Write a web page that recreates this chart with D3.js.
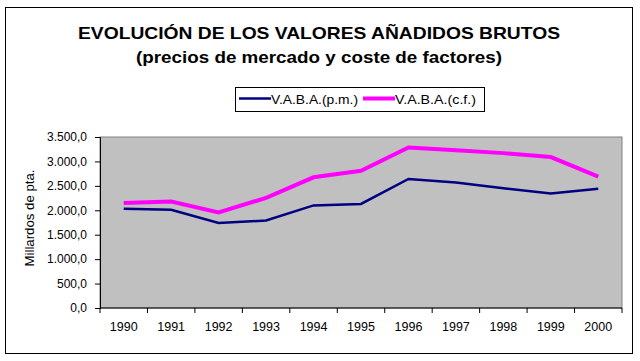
<!DOCTYPE html>
<html>
<head>
<meta charset="utf-8">
<script src="https://cdn.jsdelivr.net/npm/d3@7"></script>
<style>
  body { margin: 0; background: #fff; }
  svg { display: block; font-family: Arial, "Liberation Sans", sans-serif; }
</style>
</head>
<body>
<svg width="640" height="361"></svg>
<script>
const years = ["1990","1991","1992","1993","1994","1995","1996","1997","1998","1999","2000"];
const vabaPm = [2030, 2010, 1740, 1790, 2100, 2130, 2640, 2570, 2450, 2345, 2440];
const vabaCf = [2150, 2180, 1955, 2255, 2675, 2810, 3285, 3230, 3170, 3090, 2690];
const yTicks = [0, 500, 1000, 1500, 2000, 2500, 3000, 3500];
const seriesNames = ["V.A.B.A.(p.m.)", "V.A.B.A.(c.f.)"];

const svg = d3.select("svg");

// marco exterior
svg.append("rect")
  .attr("x", 5.5).attr("y", 7.5)
  .attr("width", 627).attr("height", 346)
  .attr("fill", "#fff").attr("stroke", "#000").attr("stroke-width", 1);

// titulo (texto algo ensanchado como en el original)
svg.append("text")
  .attr("x", 78).attr("y", 39)
  .attr("font-size", 17).attr("font-weight", "bold")
  .attr("textLength", 482).attr("lengthAdjust", "spacingAndGlyphs")
  .text("EVOLUCIÓN DE LOS VALORES AÑADIDOS BRUTOS");
svg.append("text")
  .attr("x", 136).attr("y", 63)
  .attr("font-size", 17).attr("font-weight", "bold")
  .attr("textLength", 366).attr("lengthAdjust", "spacingAndGlyphs")
  .text("(precios de mercado y coste de factores)");

const plot = {left: 100, right: 622, top: 137, bottom: 308};

const x = d3.scaleBand().domain(years).range([plot.left, plot.right]);
const y = d3.scaleLinear().domain([0, 3500]).range([plot.bottom, plot.top]);

// fondo gris
svg.append("rect")
  .attr("x", plot.left).attr("y", plot.top)
  .attr("width", plot.right - plot.left).attr("height", plot.bottom - plot.top)
  .attr("fill", "#c0c0c0").attr("stroke", "#808080").attr("stroke-width", 1);

// eje y
const fmt = v => d3.format(",.1f")(v).replace(/,/g, "#").replace(".", ",").replace(/#/g, ".");
svg.append("g")
  .attr("transform", `translate(${plot.left},0)`)
  .call(d3.axisLeft(y).tickValues(yTicks).tickSize(5).tickPadding(8).tickFormat(fmt))
  .call(g => g.selectAll("text").attr("font-size", 12).attr("fill", "#000").attr("font-family", "Arial, 'Liberation Sans', sans-serif"))
  .call(g => g.selectAll("line, path").attr("stroke", "#000"));

// eje x, ticks en los bordes de las bandas
const xg = svg.append("g")
  .attr("transform", `translate(0,${plot.bottom})`);
xg.append("line")
  .attr("x1", plot.left).attr("x2", plot.right)
  .attr("stroke", "#000");
xg.selectAll("line.tick")
  .data(years.concat(["end"]))
  .join("line")
  .attr("class", "tick")
  .attr("x1", (d, i) => i < years.length ? x(d) : plot.right)
  .attr("x2", (d, i) => i < years.length ? x(d) : plot.right)
  .attr("y1", 0).attr("y2", 5)
  .attr("stroke", "#000");
xg.selectAll("text")
  .data(years)
  .join("text")
  .attr("x", d => x(d) + x.bandwidth() / 2)
  .attr("y", 23)
  .attr("text-anchor", "middle")
  .attr("font-size", 12.5)
  .text(d => d);

// titulo eje y
svg.append("text")
  .attr("transform", `translate(34,${(plot.top + plot.bottom) / 2 + 44}) rotate(-90)`)
  .attr("font-size", 12.5)
  .attr("textLength", 97).attr("lengthAdjust", "spacingAndGlyphs")
  .text("Millardos de pta.");

// lineas
const line = d3.line()
  .x((d, i) => x(years[i]) + x.bandwidth() / 2)
  .y(d => y(d));

svg.append("path")
  .datum(vabaCf)
  .attr("fill", "none").attr("stroke", "#ff00ff").attr("stroke-width", 4)
  .attr("d", line);
svg.append("path")
  .datum(vabaPm)
  .attr("fill", "none").attr("stroke", "#000080").attr("stroke-width", 2.5)
  .attr("d", line);

// leyenda
const leg = svg.append("g");
leg.append("rect")
  .attr("x", 235.5).attr("y", 87.5)
  .attr("width", 249).attr("height", 24)
  .attr("fill", "#fff").attr("stroke", "#000");
const legItems = [
  {name: seriesNames[0], color: "#000080", w: 2.5, x0: 239, tw: 87},
  {name: seriesNames[1], color: "#ff00ff", w: 4, x0: 363, tw: 81}
];
legItems.forEach(it => {
  leg.append("line")
    .attr("x1", it.x0).attr("x2", it.x0 + 32)
    .attr("y1", 98.5).attr("y2", 98.5)
    .attr("stroke", it.color).attr("stroke-width", it.w);
  leg.append("text")
    .attr("x", it.x0 + 32).attr("y", 103.5)
    .attr("font-size", 13)
    .attr("textLength", it.tw).attr("lengthAdjust", "spacingAndGlyphs")
    .text(it.name);
});
</script>
</body>
</html>
